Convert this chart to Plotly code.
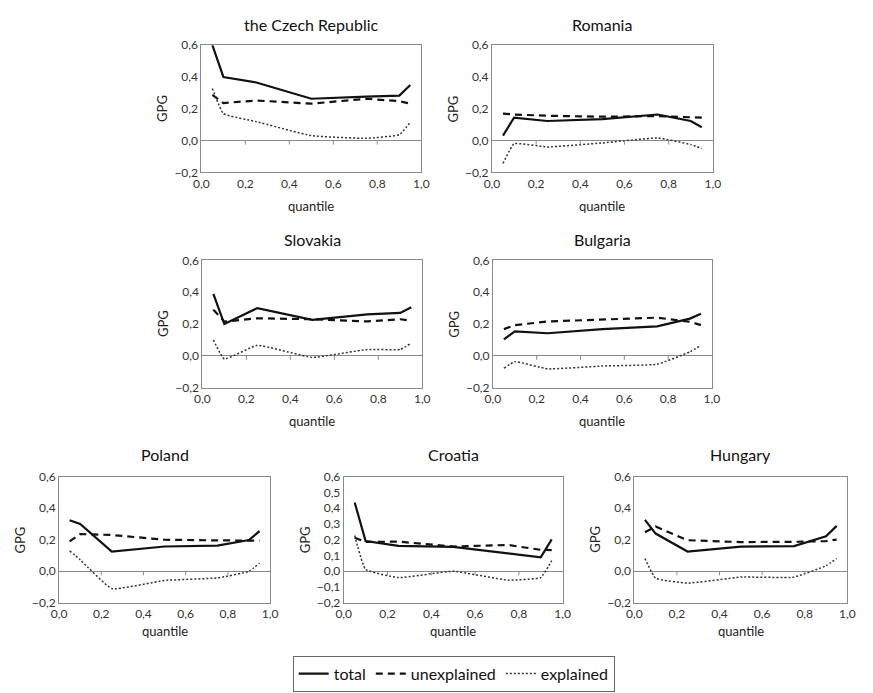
import plotly.graph_objects as go

W, H = 873, 693

quantiles = [0.05, 0.1, 0.25, 0.5, 0.75, 0.9, 0.95]
series_names = ["total", "unexplained", "explained"]

countries = ["the Czech Republic", "Romania", "Slovakia", "Bulgaria", "Poland", "Croatia", "Hungary"]

czech_total = [0.60, 0.40, 0.365, 0.263, 0.277, 0.283, 0.349]
czech_unexpl = [0.287, 0.236, 0.252, 0.232, 0.263, 0.248, 0.232]
czech_expl = [0.328, 0.17, 0.119, 0.031, 0.014, 0.037, 0.115]

romania_total = [0.031, 0.144, 0.123, 0.135, 0.164, 0.123, 0.084]
romania_unexpl = [0.17, 0.164, 0.156, 0.15, 0.154, 0.15, 0.144]
romania_expl = [-0.144, -0.02, -0.04, -0.015, 0.016, -0.025, -0.05]

slovakia_total = [0.39, 0.20, 0.30, 0.226, 0.26, 0.27, 0.306]
slovakia_unexpl = [0.29, 0.215, 0.236, 0.23, 0.216, 0.23, 0.22]
slovakia_expl = [0.10, -0.02, 0.066, -0.01, 0.04, 0.04, 0.08]

bulgaria_total = [0.103, 0.154, 0.142, 0.168, 0.185, 0.234, 0.265]
bulgaria_unexpl = [0.168, 0.193, 0.216, 0.23, 0.24, 0.214, 0.193]
bulgaria_expl = [-0.078, -0.037, -0.082, -0.064, -0.053, 0.025, 0.066]

poland_total = [0.324, 0.30, 0.125, 0.157, 0.163, 0.198, 0.255]
poland_unexpl = [0.19, 0.236, 0.23, 0.20, 0.196, 0.194, 0.194]
poland_expl = [0.13, 0.073, -0.11, -0.058, -0.042, 0.0, 0.052]

croatia_total = [0.436, 0.192, 0.161, 0.155, 0.114, 0.089, 0.202]
croatia_unexpl = [0.213, 0.186, 0.188, 0.157, 0.167, 0.136, 0.134]
croatia_expl = [0.227, 0.012, -0.04, 0.0, -0.056, -0.04, 0.068]

hungary_total = [0.326, 0.239, 0.125, 0.156, 0.16, 0.222, 0.288]
hungary_unexpl = [0.247, 0.284, 0.197, 0.185, 0.187, 0.191, 0.201]
hungary_expl = [0.081, -0.044, -0.075, -0.037, -0.037, 0.035, 0.081]

data = {
    "the Czech Republic": (czech_total, czech_unexpl, czech_expl),
    "Romania": (romania_total, romania_unexpl, romania_expl),
    "Slovakia": (slovakia_total, slovakia_unexpl, slovakia_expl),
    "Bulgaria": (bulgaria_total, bulgaria_unexpl, bulgaria_expl),
    "Poland": (poland_total, poland_unexpl, poland_expl),
    "Croatia": (croatia_total, croatia_unexpl, croatia_expl),
    "Hungary": (hungary_total, hungary_unexpl, hungary_expl),
}

y_tick_step = {"Croatia": 0.1}
x_ticks = [0.0, 0.2, 0.4, 0.6, 0.8, 1.0]
x_tick_marks = [0.2, 0.4, 0.6, 0.8]

# plot-area boxes in pixels: (left, right, top, bottom)
boxes = {
    "the Czech Republic": (197, 421, 38, 168),
    "Romania": (493, 718, 38, 168),
    "Slovakia": (198, 422, 258, 388),
    "Bulgaria": (494, 717, 258, 388),
    "Poland": (52, 267, 479, 608),
    "Croatia": (342, 565, 479, 608),
    "Hungary": (638, 855, 479, 608),
}
title_y = {38: 17, 258: 237, 479: 456}
xtitle_y = {168: 202, 388: 422, 608: 637}

styles = [
    dict(color="#111111", width=2.2, dash="solid"),
    dict(color="#111111", width=2.2, dash="7px,5px"),
    dict(color="#333333", width=1.5, dash="2px,2px"),
]

FONT = "Lato, 'Open Sans', sans-serif"

fig = go.Figure()
annotations = []
shapes = []
layout_axes = {}

for i, c in enumerate(countries):
    k = i + 1
    xa = "x" if k == 1 else f"x{k}"
    ya = "y" if k == 1 else f"y{k}"
    l, r, t, b = boxes[c]
    for j, (vals, st) in enumerate(zip(data[c], styles)):
        fig.add_trace(go.Scatter(
            x=quantiles, y=vals, mode="lines", name=series_names[j],
            line=dict(color=st["color"], width=st["width"], dash=st["dash"],
                      shape="spline" if j == 2 else "linear", smoothing=0.35),
            xaxis=xa, yaxis=ya, showlegend=(i == 0), cliponaxis=True,
        ))
    step = y_tick_step.get(c, 0.2)
    layout_axes["xaxis" if k == 1 else f"xaxis{k}"] = dict(
        domain=[l / W, r / W], anchor=ya, range=[0, 1],
        tickvals=x_ticks, tickformat=".1f", showgrid=False, zeroline=False,
        showline=True, mirror=True, linecolor="#8a8a8a", linewidth=1,
        ticks="", tickfont=dict(size=12, color="#333333", family=FONT),
        fixedrange=True,
    )
    layout_axes["yaxis" if k == 1 else f"yaxis{k}"] = dict(
        domain=[1 - b / H, 1 - t / H], anchor=xa, range=[-0.2, 0.6],
        dtick=step, tick0=0, tickformat=".1f", showgrid=False,
        zeroline=True, zerolinecolor="#8a8a8a", zerolinewidth=1,
        showline=True, mirror=True, linecolor="#8a8a8a", linewidth=1,
        ticks="", tickfont=dict(size=12, color="#333333", family=FONT),
        fixedrange=True,
    )
    for tv in x_tick_marks:
        shapes.append(dict(type="line", xref=xa, yref=ya, x0=tv, x1=tv,
                           ysizemode="pixel", yanchor=0, y0=0, y1=-4,
                           line=dict(color="#8a8a8a", width=1)))
    annotations.append(dict(text=c, x=(l + r) / 2 / W, y=1 - title_y[t] / H,
                            xref="paper", yref="paper", showarrow=False,
                            xanchor="center", yanchor="middle",
                            font=dict(size=16, color="#111111", family=FONT)))
    annotations.append(dict(text="quantile", x=(l + r) / 2 / W, y=1 - xtitle_y[b] / H,
                            xref="paper", yref="paper", showarrow=False,
                            xanchor="center", yanchor="middle",
                            font=dict(size=13, color="#222222", family=FONT)))
    annotations.append(dict(text="GPG", x=(l - 40) / W, y=1 - (t + b) / 2 / H,
                            xref="paper", yref="paper", showarrow=False, textangle=-90,
                            xanchor="center", yanchor="middle",
                            font=dict(size=13, color="#222222", family=FONT)))

fig.update_layout(
    width=W, height=H, margin=dict(l=0, r=0, t=0, b=0),
    paper_bgcolor="white", plot_bgcolor="white",
    separators=", ",
    font=dict(family=FONT, color="#222222"),
    showlegend=True,
    legend=dict(orientation="h", x=290 / W, y=1 - 662 / H, xanchor="left", yanchor="top",
                bordercolor="#666666", borderwidth=1, bgcolor="white",
                font=dict(size=16, color="#111111", family=FONT),
                itemwidth=30, tracegroupgap=0),
    annotations=annotations, shapes=shapes,
    **layout_axes,
)

fig.write_html("out.html")
